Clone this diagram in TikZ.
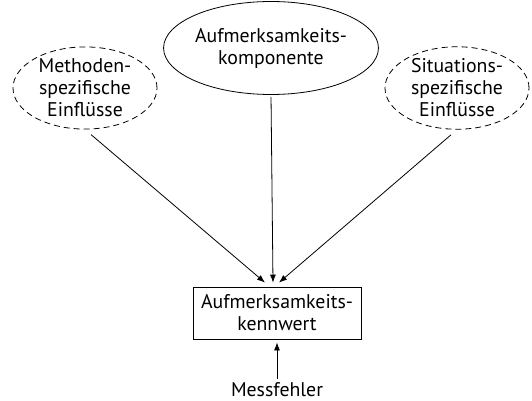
\documentclass[tikz,border=0pt]{standalone}
\usepackage{fontspec}
\setmainfont{PT Sans}
\usetikzlibrary{shapes.geometric,arrows.meta,positioning}

\begin{document}
\begin{tikzpicture}[x=1pt, y=-1pt, line width=0.8pt, font=\fontsize{19.8}{22}\selectfont,
    main/.style = {draw, ellipse, align=center, inner sep=0pt},
    stoer/.style = {main, dash pattern=on 6pt off 4pt, minimum width=144pt, minimum height=71pt},
    pfeil/.style = {-{Latex[length=8pt,width=6pt]}}]
            \useasboundingbox (0,0) rectangle (532,401);

            \node[main, minimum width=184pt, minimum height=93pt] (1) at (271,48) {Aufmerksamkeits-\\komponente};
            \node[stoer] (2) at (85,88) {Methoden-\\spezifische\\Einflüsse};
            \node[stoer] (3) at (457,88) {Situations-\\spezifische\\Einflüsse};
            \node[draw, minimum width=168pt, minimum height=52pt, align=center] (4) at (277,313) {Aufmerksamkeits-\\kennwert};
            \node (5) at (277,390) {Messfehler};

            \draw[pfeil, shorten <=2pt] (1.south) -- ([xshift=-4pt,yshift=4pt]4.north);
            \draw[pfeil, shorten <=8pt] (2.south) -- ([xshift=-12pt,yshift=4pt]4.north);
            \draw[pfeil, shorten <=8pt] (3.south) -- ([xshift=2pt,yshift=4pt]4.north);
            \draw[pfeil, shorten >=3pt] (5) -- (4);

        \end{tikzpicture}
\end{document}
